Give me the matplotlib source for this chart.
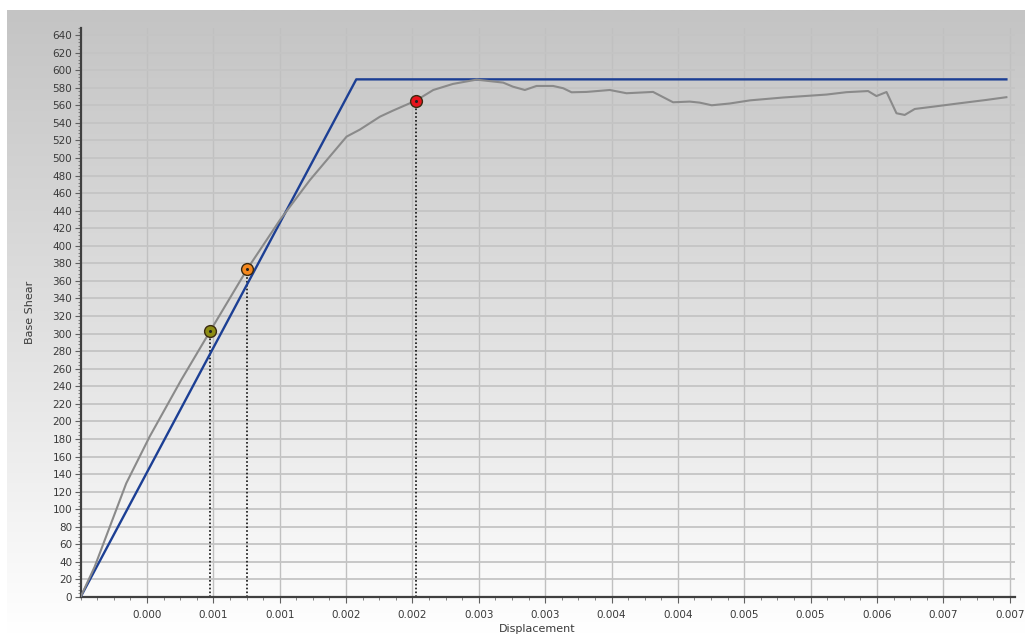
import numpy as np
import matplotlib
matplotlib.use("Agg")
import matplotlib.pyplot as plt
from matplotlib.ticker import MultipleLocator, FixedLocator
from matplotlib.colors import LinearSegmentedColormap

# Capacity (pushover) curve
disp = [0.0, 0.000106, 0.000344, 0.000520, 0.000758, 0.000978, 0.001256,
        0.001502, 0.001728, 0.002004, 0.002104, 0.002255, 0.002353, 0.002526,
        0.002657, 0.002805, 0.002983, 0.003184, 0.003257, 0.003347, 0.003435,
        0.003560, 0.003636, 0.003699, 0.003812, 0.003987, 0.004113, 0.004313,
        0.004464, 0.004589, 0.004665, 0.004755, 0.004890, 0.005044, 0.005290,
        0.005620, 0.005770, 0.005933, 0.005996, 0.006072, 0.006147, 0.006209,
        0.006285, 0.006423, 0.006624, 0.006825, 0.006975]
shear = [0.0, 34.5, 129.5, 182.6, 247.2, 303.3, 373.6,
         429.4, 474.9, 524.3, 532.3, 547.0, 553.9, 565.3,
         577.4, 584.3, 589.2, 585.8, 581.2, 577.4, 582.0,
         582.0, 579.4, 574.8, 575.2, 577.4, 573.7, 575.2,
         563.4, 564.2, 563.0, 560.0, 562.0, 565.6, 568.8,
         572.2, 574.9, 576.2, 570.5, 575.1, 550.9, 549.0,
         555.8, 558.4, 562.3, 566.1, 569.2]

# Idealised bilinear curve
bilinear_disp = [0.0, 0.002077, 0.006975]
bilinear_shear = [0.0, 589.5, 589.5]

# Performance points
perf_disp = [0.000978, 0.001256, 0.002526]
perf_shear = [303.3, 373.6, 565.3]
perf_colors = ["#8c8c14", "#f5881e", "#e8141c"]

x_ticks = [0.0005 * k for k in range(1, 15)]
x_tick_labels = ["0.000", "0.001", "0.001", "0.002", "0.002", "0.003", "0.003",
                 "0.004", "0.004", "0.005", "0.005", "0.006", "0.007", "0.007"]
y_ticks = list(range(0, 641, 20))

W, H = 1025, 634
fig = plt.figure(figsize=(W / 100, H / 100), dpi=100)
fig.patch.set_facecolor("white")

# Gradient backdrop
bg = fig.add_axes([7 / W, 0, 1 - 7 / W, 1 - 10 / H])
bg.set_zorder(-5)
cmap = LinearSegmentedColormap.from_list("bg", ["#c4c4c4", "#e0e0e0", "#ffffff"])
grad = np.linspace(0, 1, 256).reshape(-1, 1)
bg.imshow(grad, aspect="auto", cmap=cmap, extent=[0, 1, 0, 1], origin="upper")
bg.axis("off")

ax = fig.add_axes([80.6 / W, 37 / H, (1015 - 80.6) / W, (597 - 28) / H])
ax.set_facecolor("none")
ax.set_xlim(0, 0.00704)
ax.set_ylim(0, 648)

ax.xaxis.set_major_locator(FixedLocator(x_ticks))
ax.set_xticklabels(x_tick_labels)
ax.xaxis.set_minor_locator(MultipleLocator(0.000125))
ax.yaxis.set_major_locator(FixedLocator(y_ticks))
ax.set_yticklabels([str(v) for v in y_ticks])
ax.yaxis.set_minor_locator(MultipleLocator(4))

ax.grid(True, which="major", axis="y", color="#c4c4c4", linewidth=1.3, zorder=0)
ax.grid(True, which="major", axis="x", color="#c0c0c0", linewidth=1.0, zorder=0)
ax.set_axisbelow(True)

for s in ["top", "right"]:
    ax.spines[s].set_visible(False)
for s in ["left", "bottom"]:
    ax.spines[s].set_color("#404040")
    ax.spines[s].set_linewidth(1.6)

ax.tick_params(axis="both", which="major", length=4, width=0.8, color="#606060",
               labelsize=7.5, labelcolor="#3a3a3a", pad=2)
ax.tick_params(axis="both", which="minor", length=2, width=0.6, color="#707070")
ax.tick_params(axis="x", which="major", pad=5)

ax.plot(bilinear_disp, bilinear_shear, color="#1c3f94", linewidth=1.7, zorder=3)
ax.plot(disp, shear, color="#8a8a8a", linewidth=1.5, zorder=4)

for xd, yd, c in zip(perf_disp, perf_shear, perf_colors):
    ax.plot([xd, xd], [0, yd], color="#111111", linewidth=1.2,
            linestyle=(0, (1, 1.3)), zorder=2)
    ax.plot(xd, yd, marker="o", markersize=8.5, markerfacecolor=c,
            markeredgecolor="#3a2a10", markeredgewidth=1.0, zorder=6)
    ax.plot(xd, yd, marker="o", markersize=1.2, color="#222222", zorder=7)

fig.text(30 / W, 1 - 312 / H, "Base Shear", rotation=90, ha="center", va="center",
         fontsize=8, color="#3a3a3a")
fig.text(537 / W, 1 - 629 / H, "Displacement", ha="center", va="center",
         fontsize=8, color="#3a3a3a")

fig.savefig("out.png", dpi=100)
